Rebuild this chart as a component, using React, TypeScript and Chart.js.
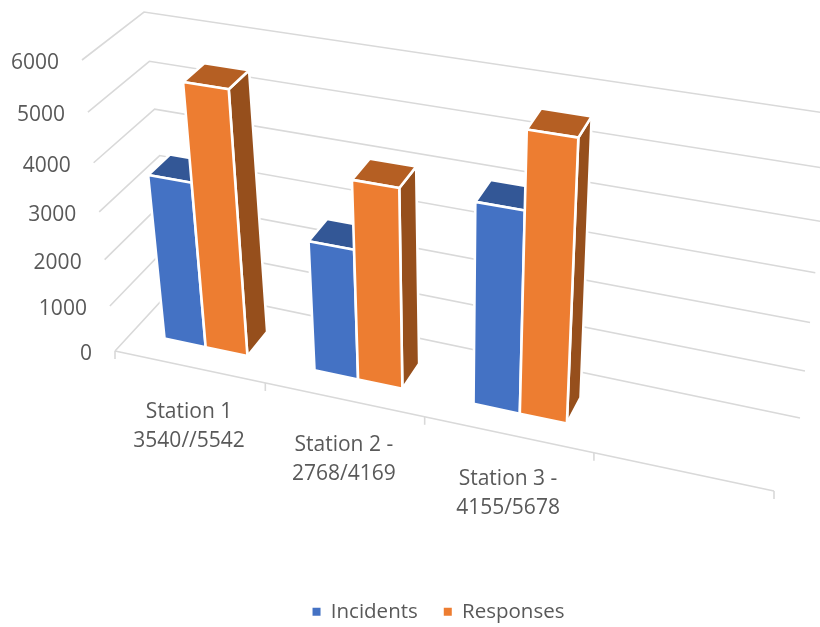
import React, { useEffect, useRef } from "react";
import { Chart, registerables } from "chart.js";

Chart.register(...registerables);

const categories: (string | string[])[] = [
  ["Station 1", "3540//5542"],
  ["Station 2 -", "2768/4169"],
  ["Station 3 -", "4155/5678"],
  "",
];
const incidents = [3540, 2768, 4155, null];
const responses = [5542, 4169, 5678, null];
const FONT = '"Open Sans", "Noto Sans", sans-serif';
const TEXT = "#595959";
const GRID = "#D9D9D9";

// The 3D box of the plot, as a projection: [u][v][w] corners on screen
type Pt = [number, number];
const box: Record<string, Pt> = {
  fb0: [115, 351], // front-left floor
  ft0: [82, 60],
  fb1: [774, 491],
  ft1: [809, 175],
  bb0: [174, 287],
  bt0: [144, 12],
  bb1: [800, 418],
  bt1: [832, 114],
};
const warp = (t: number, a: number) => t / (a + (1 - a) * t);
const mix = (a: Pt, b: Pt, t: number): Pt => [a[0] + (b[0] - a[0]) * t, a[1] + (b[1] - a[1]) * t];
const project = (u: number, v: number, w: number): Pt => {
  const uu = warp(u, 1.128);
  const vv = warp(v, 1.092);
  const front = mix(mix(box.fb0, box.fb1, uu), mix(box.ft0, box.ft1, uu), vv);
  const back = mix(mix(box.bb0, box.bb1, uu), mix(box.bt0, box.bt1, uu), vv);
  return mix(front, back, w);
};
const W_FRONT = 0.3;
const W_BACK = 0.67;

const shades = [
  { front: "#4472C4", top: "#335796", side: "#2F5597" },
  { front: "#ED7D31", top: "#B55F23", side: "#964F1C" },
];

const poly = (ctx: CanvasRenderingContext2D, pts: Pt[], fill: string) => {
  ctx.beginPath();
  pts.forEach((p, i) => (i ? ctx.lineTo(p[0], p[1]) : ctx.moveTo(p[0], p[1])));
  ctx.closePath();
  ctx.fillStyle = fill;
  ctx.fill();
  ctx.strokeStyle = "#FFFFFF";
  ctx.lineWidth = 2.6;
  ctx.lineJoin = "round";
  ctx.stroke();
};

const scene3d = {
  id: "scene3d",
  beforeDatasetsDraw(chart: any) {
    const { ctx, chartArea: a, scales } = chart;
    const U = (px: number) => (px - a.left) / a.width;
    const V = (px: number) => (a.bottom - px) / a.height;
    const y = scales.y;
    const x = scales.x;
    ctx.save();

    // grid: left wall + back wall, one polyline per value tick
    ctx.strokeStyle = GRID;
    ctx.lineWidth = 1.6;
    y.ticks.forEach((t: any) => {
      const v = V(y.getPixelForValue(t.value));
      const p0 = project(0, v, 0);
      const p1 = project(0, v, 1);
      const p2 = project(1, v, 1);
      ctx.beginPath();
      ctx.moveTo(p0[0], p0[1]);
      ctx.lineTo(p1[0], p1[1]);
      ctx.lineTo(p2[0], p2[1]);
      ctx.stroke();
    });

    // front floor edge and category ticks
    const n = categories.length;
    const f0 = project(0, 0, 0);
    const f1 = project(1, 0, 0);
    ctx.beginPath();
    ctx.moveTo(f0[0], f0[1]);
    ctx.lineTo(f1[0], f1[1]);
    ctx.stroke();
    for (let i = 0; i <= n; i++) {
      const p = project(i / n, 0, 0);
      ctx.beginPath();
      ctx.moveTo(p[0], p[1]);
      ctx.lineTo(p[0], p[1] + 8);
      ctx.stroke();
    }

    // value tick labels
    ctx.fillStyle = TEXT;
    ctx.font = `21px ${FONT}`;
    ctx.textAlign = "right";
    ctx.textBaseline = "middle";
    y.ticks.forEach((t: any) => {
      const p = project(0, V(y.getPixelForValue(t.value)), 0);
      ctx.fillText(String(t.value), p[0] - 23, p[1] + 3);
    });

    // category labels
    ctx.textAlign = "center";
    categories.forEach((lab, i) => {
      const lines = Array.isArray(lab) ? lab : [lab];
      const p = project(U(x.getPixelForValue(i)), 0, 0);
      lines.forEach((s, k) => ctx.fillText(s, p[0], p[1] + 45 + k * 29));
    });

    // bars: series by series, left to right
    chart.data.datasets.forEach((_: any, di: number) => {
      const meta = chart.getDatasetMeta(di);
      const c = shades[di];
      meta.data.forEach((el: any, i: number) => {
        if (chart.data.datasets[di].data[i] == null) return;
        const u0 = U(el.x - el.width / 2);
        const u1 = U(el.x + el.width / 2);
        const v1 = V(el.y);
        const v0 = V(y.getPixelForValue(0));
        const P = (u: number, v: number, w: number) => project(u, v, w);
        poly(ctx, [P(u1, v0, W_FRONT), P(u1, v0, W_BACK), P(u1, v1, W_BACK), P(u1, v1, W_FRONT)], c.side);
        poly(ctx, [P(u0, v1, W_FRONT), P(u1, v1, W_FRONT), P(u1, v1, W_BACK), P(u0, v1, W_BACK)], c.top);
        poly(ctx, [P(u0, v0, W_FRONT), P(u1, v0, W_FRONT), P(u1, v1, W_FRONT), P(u0, v1, W_FRONT)], c.front);
      });
    });
    ctx.restore();
    return false;
  },
};

export default function App() {
  const ref = useRef<HTMLCanvasElement>(null);
  useEffect(() => {
    document.body.style.margin = "0";
    const chart = new Chart(ref.current!, {
      type: "bar",
      data: {
        labels: categories as any,
        datasets: [
          { label: "Incidents", data: incidents as any, backgroundColor: "#4472C4", borderWidth: 0 },
          { label: "Responses", data: responses as any, backgroundColor: "#ED7D31", borderWidth: 0 },
        ],
      },
      options: {
        responsive: false,
        animation: false,
        layout: { padding: { left: 57, bottom: -5 } },
        datasets: { bar: { categoryPercentage: 0.56, barPercentage: 1 } },
        scales: {
          x: { display: false },
          y: { display: false, min: 0, max: 6000, ticks: { stepSize: 1000 } },
        },
        plugins: {
          legend: {
            position: "bottom",
            labels: {
              boxWidth: 8,
              boxHeight: 8,
              padding: 26,
              color: TEXT,
              font: { family: FONT, size: 20.5 },
            },
          },
          tooltip: { enabled: false },
        },
      } as any,
      plugins: [scene3d as any],
    });
    return () => chart.destroy();
  }, []);
  return <canvas ref={ref} width={820} height={627} style={{ display: "block" }} />;
}
